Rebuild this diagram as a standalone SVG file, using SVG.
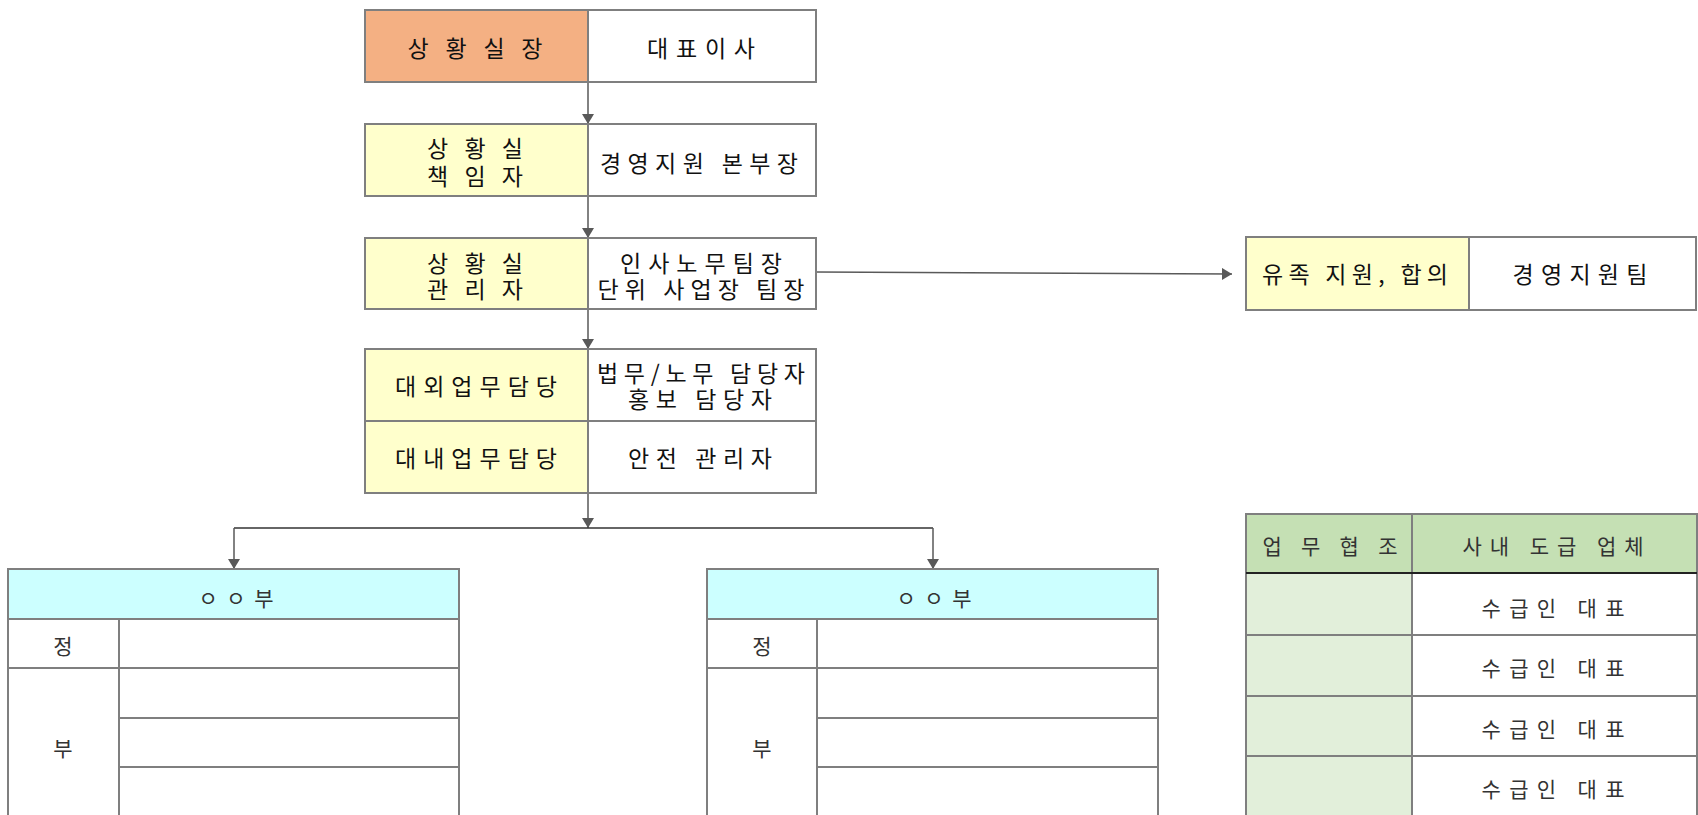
<svg xmlns="http://www.w3.org/2000/svg" width="1698" height="815" viewBox="0 0 1698 815">
<style>
.b{stroke:#7f7f7f;stroke-width:2}
.t{font-family:"Noto Sans CJK KR","Noto Sans",sans-serif;font-size:23px;fill:#111;text-anchor:middle;dominant-baseline:central}
.s{font-family:"Noto Sans CJK KR","Noto Sans",sans-serif;font-size:21px;fill:#333;text-anchor:middle;dominant-baseline:central}
.c{stroke:#595959;stroke-width:1.5;fill:none}
.w{fill:#fff}
.y{fill:#ffffcc}
</style>
<defs>
<marker id="ah" markerUnits="userSpaceOnUse" markerWidth="12" markerHeight="12" refX="10" refY="6" orient="auto">
<path d="M0,0 L10,6 L0,12 z" fill="#595959"/>
</marker>
</defs>
<rect width="1698" height="815" fill="#fff"/>
<g id="connectors">
<line class="c" x1="588" y1="82" x2="588" y2="124" marker-end="url(#ah)"/>
<line class="c" x1="588" y1="196" x2="588" y2="238" marker-end="url(#ah)"/>
<line class="c" x1="588" y1="309" x2="588" y2="349" marker-end="url(#ah)"/>
<line class="c" x1="816" y1="272" x2="1232" y2="274" stroke="#8c8c8c" marker-end="url(#ah)"/>
<line class="c" x1="588" y1="493" x2="588" y2="528" marker-end="url(#ah)"/>
<line x1="234" y1="528" x2="933" y2="528" stroke="#333" stroke-width="1.5"/>
<line class="c" x1="234" y1="528" x2="234" y2="569" marker-end="url(#ah)"/>
<line class="c" x1="933" y1="528" x2="933" y2="569" marker-end="url(#ah)"/>
</g>
<g id="n1">
<rect class="b" x="365" y="10" width="223" height="72" fill="#f4b083"/>
<rect class="b w" x="588" y="10" width="228" height="72"/>
<text class="t" x="475" y="47" textLength="135">상 황 실 장</text>
<text class="t" x="701" y="47" textLength="108">대표이사</text>
</g>
<g id="n2">
<rect class="b y" x="365" y="124" width="223" height="72"/>
<rect class="b w" x="588" y="124" width="228" height="72"/>
<text class="t" x="475" y="147" textLength="96">상 황 실</text>
<text class="t" x="475" y="175" textLength="96">책 임 자</text>
<text class="t" x="699" y="162" textLength="198">경영지원 본부장</text>
</g>
<g id="n3">
<rect class="b y" x="365" y="238" width="223" height="71"/>
<rect class="b w" x="588" y="238" width="228" height="71"/>
<text class="t" x="475" y="262" textLength="96">상 황 실</text>
<text class="t" x="475" y="288" textLength="96">관 리 자</text>
<text class="t" x="701" y="262" textLength="162">인사노무팀장</text>
<text class="t" x="701" y="288" textLength="207">단위 사업장 팀장</text>
</g>
<g id="n4">
<rect class="b y" x="365" y="349" width="223" height="72"/>
<rect class="b w" x="588" y="349" width="228" height="72"/>
<rect class="b y" x="365" y="421" width="223" height="72"/>
<rect class="b w" x="588" y="421" width="228" height="72"/>
<text class="t" x="476" y="385" textLength="162">대외업무담당</text>
<text class="t" x="701" y="372" textLength="208">법무/노무 담당자</text>
<text class="t" x="700" y="398" textLength="144">홍보 담당자</text>
<text class="t" x="476" y="457" textLength="162">대내업무담당</text>
<text class="t" x="700" y="457" textLength="144">안전 관리자</text>
</g>
<g id="n5">
<rect class="b y" x="1246" y="237" width="223" height="73"/>
<rect class="b w" x="1469" y="237" width="227" height="73"/>
<text class="t" x="1355" y="273" textLength="186">유족 지원, 합의</text>
<text class="t" x="1580" y="273" textLength="135">경영지원팀</text>
</g>
<g id="dept1">
<rect class="b w" x="8" y="569" width="451" height="270"/>
<rect class="b" x="8" y="569" width="451" height="50" fill="#ccffff"/>
<line class="b" x1="8" y1="668" x2="459" y2="668"/>
<line class="b" x1="119" y1="619" x2="119" y2="839"/>
<line class="b" x1="119" y1="718" x2="459" y2="718"/>
<line class="b" x1="119" y1="767" x2="459" y2="767"/>
<line class="b" x1="119" y1="817" x2="459" y2="817"/>
<text class="s" x="236" y="597" textLength="75">ㅇㅇ부</text>
<text class="s" x="63" y="645">정</text>
<text class="s" x="63" y="747">부</text>
</g>
<g id="dept2">
<rect class="b w" x="707" y="569" width="451" height="270"/>
<rect class="b" x="707" y="569" width="451" height="50" fill="#ccffff"/>
<line class="b" x1="707" y1="668" x2="1158" y2="668"/>
<line class="b" x1="817" y1="619" x2="817" y2="839"/>
<line class="b" x1="817" y1="718" x2="1158" y2="718"/>
<line class="b" x1="817" y1="767" x2="1158" y2="767"/>
<line class="b" x1="817" y1="817" x2="1158" y2="817"/>
<text class="s" x="934" y="597" textLength="75">ㅇㅇ부</text>
<text class="s" x="762" y="645">정</text>
<text class="s" x="762" y="747">부</text>
</g>
<g id="coop">
<rect class="b" x="1246" y="514" width="166" height="320" fill="#e2efda"/>
<rect class="b w" x="1412" y="514" width="285" height="320"/>
<rect class="b" x="1246" y="514" width="451" height="59" fill="#c5e0b4"/>
<line class="b" x1="1412" y1="514" x2="1412" y2="834"/>
<line x1="1246" y1="573" x2="1697" y2="573" stroke="#222" stroke-width="2"/>
<line class="b" x1="1246" y1="635" x2="1697" y2="635"/>
<line class="b" x1="1246" y1="696" x2="1697" y2="696"/>
<line class="b" x1="1246" y1="756" x2="1697" y2="756"/>
<line class="b" x1="1246" y1="817" x2="1697" y2="817"/>
<text class="s" x="1330" y="545" textLength="135">업 무 협 조</text>
<text class="s" x="1553" y="545" textLength="181">사내 도급 업체</text>
<text class="s" x="1553" y="607" textLength="143">수급인 대표</text>
<text class="s" x="1553" y="667" textLength="143">수급인 대표</text>
<text class="s" x="1553" y="728" textLength="143">수급인 대표</text>
<text class="s" x="1553" y="788" textLength="143">수급인 대표</text>
</g>
</svg>
